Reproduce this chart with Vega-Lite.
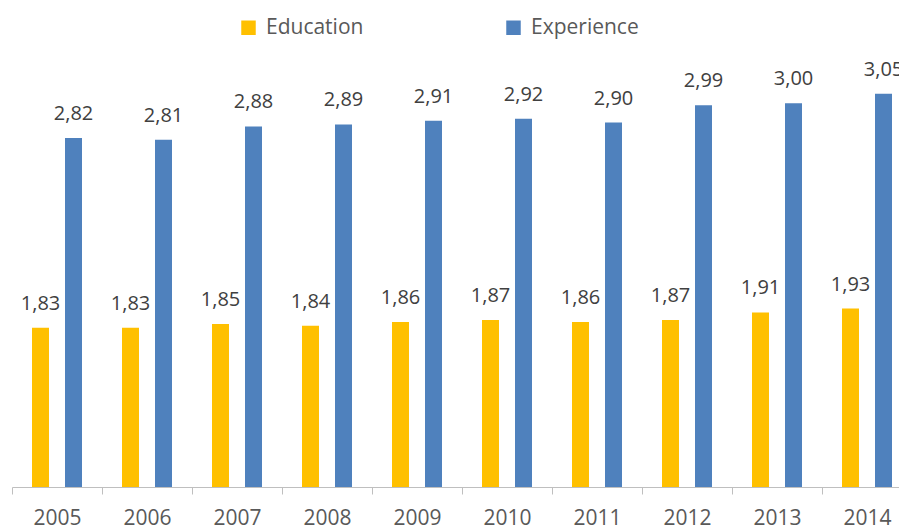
{
  "$schema": "https://vega.github.io/schema/vega-lite/v6.json",
  "autosize": "none",
  "width": 900,
  "height": 422,
  "padding": {"left": 12, "top": 65, "right": 0, "bottom": 43},
  "background": "white",
  "config": {
    "view": {"stroke": null},
    "font": "Open Sans",
    "locale": {"number": {"decimal": ",", "thousands": ".", "grouping": [3], "currency": ["", " €"]}}
  },
  "data": {
    "values": [
      {"year": "2005", "series": "Education", "value": 1.83},
      {"year": "2005", "series": "Experience", "value": 2.82},
      {"year": "2006", "series": "Education", "value": 1.83},
      {"year": "2006", "series": "Experience", "value": 2.81},
      {"year": "2007", "series": "Education", "value": 1.85},
      {"year": "2007", "series": "Experience", "value": 2.88},
      {"year": "2008", "series": "Education", "value": 1.84},
      {"year": "2008", "series": "Experience", "value": 2.89},
      {"year": "2009", "series": "Education", "value": 1.86},
      {"year": "2009", "series": "Experience", "value": 2.91},
      {"year": "2010", "series": "Education", "value": 1.87},
      {"year": "2010", "series": "Experience", "value": 2.92},
      {"year": "2011", "series": "Education", "value": 1.86},
      {"year": "2011", "series": "Experience", "value": 2.90},
      {"year": "2012", "series": "Education", "value": 1.87},
      {"year": "2012", "series": "Experience", "value": 2.99},
      {"year": "2013", "series": "Education", "value": 1.91},
      {"year": "2013", "series": "Experience", "value": 3.00},
      {"year": "2014", "series": "Education", "value": 1.93},
      {"year": "2014", "series": "Experience", "value": 3.05}
    ]
  },
  "encoding": {
    "x": {
      "field": "year", "type": "nominal", "title": null,
      "scale": {"paddingInner": 0, "paddingOuter": 0},
      "axis": {
        "tickBand": "extent", "labelAngle": 0, "labelFontSize": 21, "labelColor": "#595959",
        "labelPadding": 13, "tickSize": 7, "tickColor": "#bfbfbf", "domainColor": "#bfbfbf",
        "labelFont": "Open Sans", "grid": false
      }
    },
    "xOffset": {
      "field": "series", "type": "nominal",
      "scale": {"paddingInner": 0.485, "paddingOuter": 0.606}
    },
    "y": {
      "field": "value", "type": "quantitative",
      "scale": {"domain": [1, 3.2], "zero": false, "nice": false},
      "axis": null
    }
  },
  "layer": [
    {
      "mark": {"type": "bar", "clip": true},
      "encoding": {
        "color": {
          "field": "series", "type": "nominal", "title": null,
          "scale": {"domain": ["Education", "Experience"], "range": ["#FFC000", "#4F81BD"]},
          "legend": {
            "orient": "none", "legendX": 226, "legendY": -48, "direction": "horizontal",
            "symbolType": "square", "symbolSize": 210, "symbolStrokeWidth": 0,
            "labelFontSize": 21, "labelColor": "#595959", "labelFont": "Open Sans",
            "labelOffset": 7, "columnPadding": 139, "labelLimit": 300
          }
        }
      }
    },
    {
      "mark": {"type": "text", "dy": -18, "baseline": "alphabetic", "fontSize": 20, "color": "#404040", "font": "Open Sans"},
      "encoding": {
        "text": {"field": "value", "type": "quantitative", "format": ".2f"}
      }
    }
  ]
}
